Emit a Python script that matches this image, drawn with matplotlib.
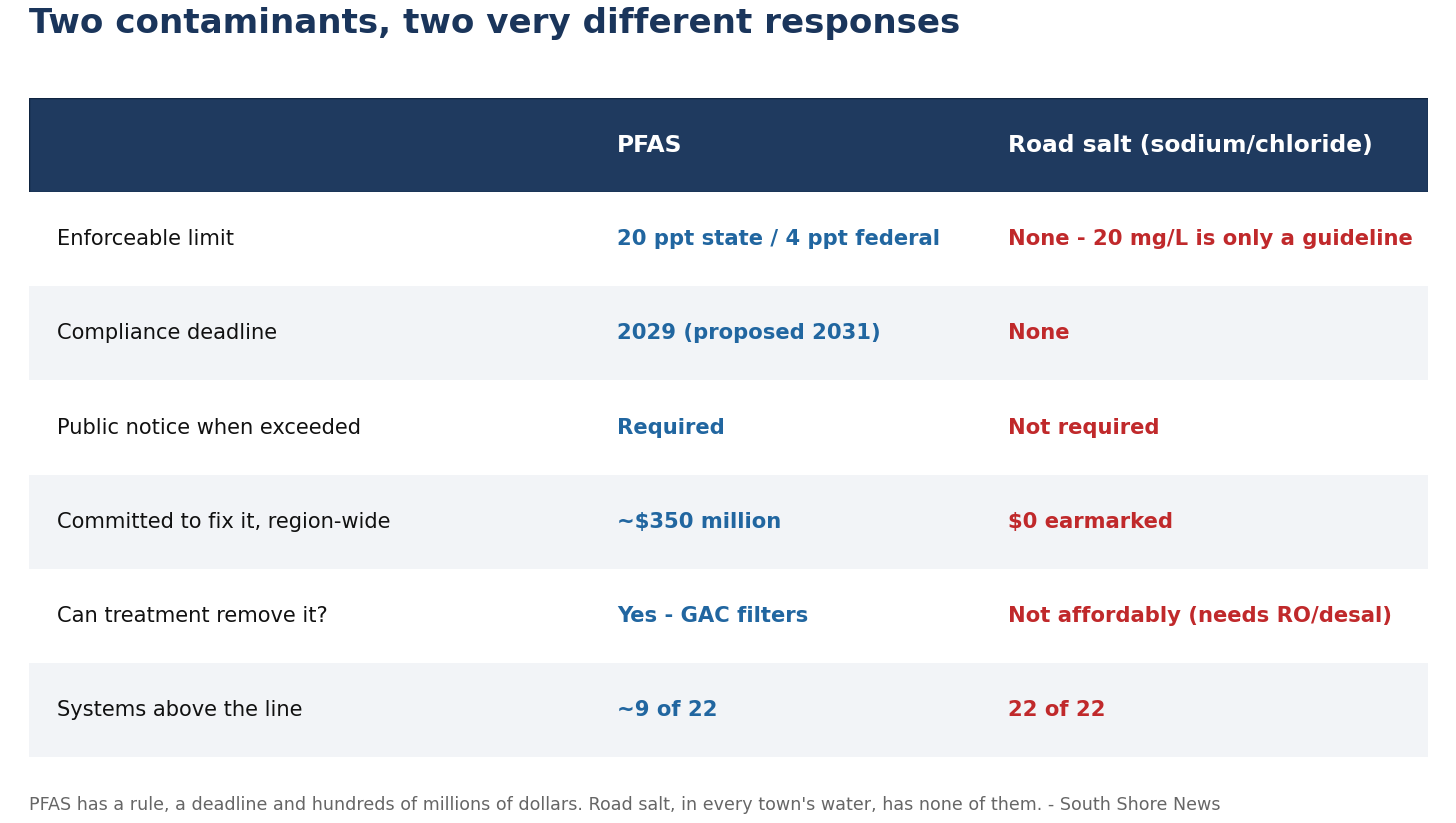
import matplotlib
matplotlib.use("Agg")
import matplotlib.pyplot as plt

title = "Two contaminants, two very different responses"
columns = ["", "PFAS", "Road salt (sodium/chloride)"]
labels = [
    "Enforceable limit",
    "Compliance deadline",
    "Public notice when exceeded",
    "Committed to fix it, region-wide",
    "Can treatment remove it?",
    "Systems above the line",
]
pfas = [
    "20 ppt state / 4 ppt federal",
    "2029 (proposed 2031)",
    "Required",
    "~$350 million",
    "Yes - GAC filters",
    "~9 of 22",
]
salt = [
    "None - 20 mg/L is only a guideline",
    "None",
    "Not required",
    "$0 earmarked",
    "Not affordably (needs RO/desal)",
    "22 of 22",
]
footer = ("PFAS has a rule, a deadline and hundreds of millions of dollars. "
          "Road salt, in every town's water, has none of them. - South Shore News")

W, H = 1456, 823
navy = "#1f3a5f"
blue = "#2166a0"
red = "#c0292b"
stripe = "#f2f4f7"

fig = plt.figure(figsize=(W / 100, H / 100), dpi=100)
fig.patch.set_facecolor("white")

# table area in pixel coords
left, right, top, bottom = 29, 1428, 98, 757
ax = fig.add_axes([left / W, 1 - bottom / H, (right - left) / W, (bottom - top) / H])
ax.set_xlim(left, right)
nrows = len(labels) + 1
ax.set_ylim(nrows, 0)
ax.axis("off")

col_x = [57, 617, 1008]

# header band
ax.barh(0.5, right - left, left=left, height=1.0, color=navy,
        edgecolor="#0f2440", linewidth=1.0)
for x, c in zip(col_x, columns):
    ax.text(x, 0.5, c, color="white", fontsize=16.8, fontweight="bold",
            va="center", ha="left")

for i, (lab, p, s) in enumerate(zip(labels, pfas, salt)):
    y = i + 1.5
    bg = stripe if i % 2 == 1 else "white"
    ax.barh(y, right - left, left=left, height=1.0, color=bg, linewidth=0)
    ax.text(col_x[0], y, lab, color="#111111", fontsize=15.15, va="center", ha="left")
    ax.text(col_x[1], y, p, color=blue, fontsize=15.2, fontweight="bold",
            va="center", ha="left")
    ax.text(col_x[2], y, s, color=red, fontsize=15.2, fontweight="bold",
            va="center", ha="left")

fig.text(29 / W, 1 - 24 / H, title, fontsize=24.6, fontweight="bold",
         color="#1a355b", va="center", ha="left")
fig.text(29 / W, 1 - 805 / H, footer, fontsize=12.63, color="#666666",
         va="center", ha="left")

fig.savefig("out.png", dpi=100, facecolor="white")
